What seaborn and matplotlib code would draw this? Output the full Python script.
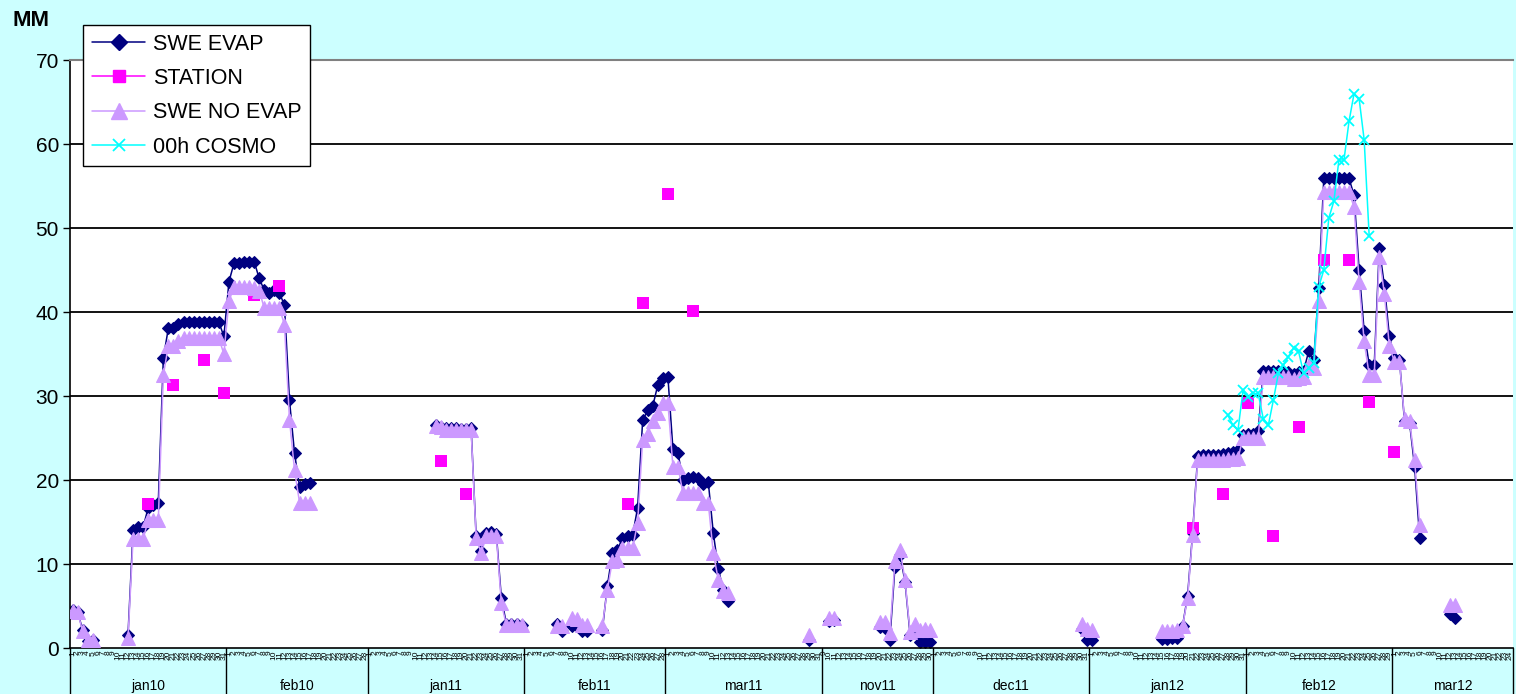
import numpy as np
import pandas as pd
import seaborn as sns
import matplotlib.pyplot as plt
from matplotlib.lines import Line2D
from matplotlib.transforms import blended_transform_factory

# category axis: days grouped by month
months = ["jan10", "feb10", "jan11", "feb11", "mar11", "nov11", "dec11", "jan12", "feb12", "mar12"]
month_start = ["2010-01-01", "2010-02-01", "2011-01-01", "2011-02-01", "2011-03-01",
               "2011-11-09", "2011-12-01", "2012-01-01", "2012-02-01", "2012-03-01"]
month_len = [31, 28, 31, 28, 31, 22, 31, 31, 29, 24]

# SWE runs (consecutive days), same start days for both model series
run_start = ["2010-01-01", "2010-01-12", "2011-01-14", "2011-02-07", "2011-02-10",
             "2011-02-16", "2011-03-29", "2011-11-10", "2011-11-20", "2011-12-30",
             "2012-01-15", "2012-03-12"]
swe_evap = [
    [4.5, 4.3, 2.2, 0.8, 1.0],
    [1.6, 14.0, 14.4, 14.4, 16.7, 17.0, 17.3, 34.5, 38.1, 38.1, 38.6, 38.8, 38.8, 38.8, 38.8,
     38.8, 38.8, 38.8, 38.8, 37.1, 43.6, 45.8, 45.8, 45.9, 46.0, 46.0, 44.0, 42.6, 42.3, 42.6,
     42.3, 40.8, 29.5, 23.2, 19.2, 19.5, 19.7],
    [26.6, 26.3, 26.2, 26.2, 26.2, 26.1, 26.1, 26.2, 13.3, 11.6, 13.7, 13.8, 13.6, 5.9,
     2.9, 2.9, 2.9, 2.7],
    [2.8, 2.0],
    [2.6, 2.6, 2.0, 2.0],
    [2.1, 7.4, 11.3, 11.7, 13.1, 13.3, 13.4, 16.7, 27.1, 28.3, 28.8, 31.3, 32.2, 32.3, 23.7,
     23.2, 20.0, 20.2, 20.4, 20.2, 19.5, 19.8, 13.7, 9.4, 6.9, 5.6],
    [1.0],
    [3.2, 3.3],
    [2.5, 2.4, 1.0, 9.6, 11.1, 7.9, 1.6, 1.8, 0.7, 0.7, 0.7],
    [2.3, 1.0, 1.0],
    [1.1, 1.1, 1.2, 1.2, 2.6, 6.2, 13.7, 22.8, 23.0, 23.0, 23.0, 23.0, 23.1, 23.2, 23.3, 23.6,
     25.4, 25.5, 25.5, 25.8, 33.0, 33.0, 33.0, 33.0, 32.9, 32.9, 32.6, 32.8, 33.0, 35.3, 34.3,
     42.9, 55.9, 55.9, 55.9, 55.9, 55.9, 55.9, 53.9, 45.0, 37.7, 33.7, 33.7, 47.6, 43.2, 37.1,
     34.5, 34.3, 27.0, 26.8, 21.6, 13.1],
    [4.0, 3.6],
]
swe_no_evap = [
    [4.4, 4.3, 2.0, 1.0, 1.0],
    [1.2, 13.0, 13.0, 13.0, 15.2, 15.2, 15.2, 32.5, 36.0, 36.0, 36.5, 36.9, 36.9, 36.9, 36.9,
     36.9, 36.9, 36.9, 36.9, 35.0, 41.3, 43.0, 43.0, 43.0, 43.0, 42.9, 42.5, 40.5, 40.5, 40.5,
     40.5, 38.5, 27.2, 21.2, 17.3, 17.3, 17.3],
    [26.4, 26.3, 26.0, 26.0, 26.0, 26.0, 26.0, 26.0, 13.1, 11.3, 13.3, 13.3, 13.3, 5.3,
     2.7, 2.7, 2.7, 2.7],
    [2.6, 2.6],
    [3.6, 3.5, 2.7, 2.7],
    [2.6, 6.9, 10.4, 10.5, 11.9, 11.9, 11.9, 14.9, 24.8, 25.5, 27.0, 28.0, 29.2, 29.2, 21.6,
     21.6, 18.4, 18.4, 18.4, 18.4, 17.3, 17.3, 11.3, 8.1, 6.8, 6.6],
    [1.5],
    [3.6, 3.6],
    [3.1, 3.1, 1.8, 10.3, 11.7, 8.1, 1.9, 2.9, 2.2, 2.3, 2.2],
    [2.9, 2.3, 2.1],
    [2.0, 2.0, 2.0, 2.1, 2.6, 5.9, 13.4, 22.4, 22.4, 22.4, 22.4, 22.4, 22.4, 22.5, 22.5, 22.6,
     25.0, 25.0, 25.0, 25.0, 32.3, 32.3, 32.3, 32.3, 32.3, 32.3, 32.0, 32.2, 32.3, 33.7, 33.3,
     41.3, 54.3, 54.3, 54.3, 54.3, 54.3, 54.3, 52.5, 43.6, 36.5, 32.5, 32.5, 46.6, 42.2, 35.9,
     34.1, 34.1, 27.3, 27.0, 22.4, 14.6],
    [5.1, 5.1],
]

station_dates = ["2010-01-16", "2010-01-21", "2010-01-27", "2010-01-31", "2010-02-06", "2010-02-11",
                 "2011-01-15", "2011-01-20", "2011-02-21", "2011-02-24", "2011-03-01", "2011-03-06",
                 "2012-01-21", "2012-01-27", "2012-02-01", "2012-02-06", "2012-02-11", "2012-02-16",
                 "2012-02-21", "2012-02-25", "2012-03-01"]
station_vals = [17.2, 31.3, 34.3, 30.3, 42.0, 43.1,
                22.3, 18.3, 17.2, 41.1, 54.1, 40.1,
                14.3, 18.3, 29.2, 13.3, 26.3, 46.2,
                46.2, 29.3, 23.3]

cosmo_start = "2012-01-28"
cosmo_vals = [27.7, 26.5, 26.0, 30.7, 29.9, 30.3, 30.3, 27.3, 26.5, 29.5, 32.7, 33.7, 34.7, 35.7,
              35.3, 32.7, 33.3, 33.9, 43.0, 45.0, 51.2, 53.2, 58.1, 58.1, 62.7, 66.0, 65.4, 60.5,
              49.0]

NAVY = "#000080"
PINK = "#FF00FF"
LILAC = "#CC99FF"
CYAN = "#00FFFF"
BG = "#CCFFFF"

days = pd.DatetimeIndex(np.concatenate(
    [pd.date_range(s, periods=n).values for s, n in zip(month_start, month_len)]))
pos_of = {d: i for i, d in enumerate(days)}
n_days = len(days)


def runs_frame(starts, values):
    rows = []
    for r, (s, vals) in enumerate(zip(starts, values)):
        p0 = pos_of[pd.Timestamp(s)]
        for k, v in enumerate(vals):
            rows.append((p0 + k, v, r))
    return pd.DataFrame(rows, columns=["pos", "value", "run"])


evap_df = runs_frame(run_start, swe_evap)
noevap_df = runs_frame(run_start, swe_no_evap)
cosmo_df = runs_frame([cosmo_start], [cosmo_vals])
station_df = pd.DataFrame({"pos": [pos_of[pd.Timestamp(d)] for d in station_dates],
                           "value": station_vals})

sns.set_style("white")
plt.rcParams["font.family"] = ["Liberation Sans", "DejaVu Sans"]
plt.rcParams["text.color"] = "black"
plt.rcParams["xtick.color"] = "black"
plt.rcParams["ytick.color"] = "black"

fig = plt.figure(figsize=(15.16, 6.94), dpi=100, facecolor=BG)
ax = fig.add_axes([70 / 1516, 46 / 694, 1443 / 1516, 588 / 694])
ax.set_facecolor("white")

ax.hlines(range(10, 70, 10), -0.5, n_days - 0.5, color="black", lw=1.3, zorder=1)

sns.lineplot(data=evap_df, x="pos", y="value", units="run", estimator=None, ax=ax,
             color=NAVY, linewidth=1.1, marker="D", markersize=6.5,
             markeredgecolor=NAVY, markerfacecolor=NAVY, zorder=2, legend=False)
sns.scatterplot(data=station_df, x="pos", y="value", ax=ax, marker="s", s=70,
                color=PINK, edgecolor=PINK, linewidth=0, zorder=2.5, legend=False)
sns.lineplot(data=noevap_df, x="pos", y="value", units="run", estimator=None, ax=ax,
             color=LILAC, linewidth=1.1, marker="^", markersize=10,
             markeredgecolor=LILAC, markerfacecolor=LILAC, zorder=3, legend=False)
sns.lineplot(data=cosmo_df, x="pos", y="value", units="run", estimator=None, ax=ax,
             color=CYAN, linewidth=1.1, marker="x", markersize=7, markeredgewidth=1.3,
             markeredgecolor=CYAN, zorder=4, legend=False)

ax.set_xlim(-0.5, n_days - 0.5)
ax.set_ylim(0, 70)
ax.set_xlabel("")
ax.set_ylabel("")
ax.set_yticks(range(0, 80, 10))
ax.tick_params(axis="y", direction="out", length=5, width=1, colors="black",
               labelsize=15, pad=3, left=True)

# day labels and category ticks
ax.set_xticks(range(n_days))
ax.set_xticklabels([str(d.day) for d in days], rotation=90, fontsize=6, color="black")
ax.tick_params(axis="x", which="major", length=0, pad=2)
ax.set_xticks(np.arange(n_days + 1) - 0.5, minor=True)
ax.tick_params(axis="x", which="minor", direction="out", length=5, width=1, color="black")

for side in ["left", "bottom"]:
    ax.spines[side].set_color("black")
    ax.spines[side].set_linewidth(1.2)
ax.spines["top"].set_color("#808080")
ax.spines["top"].set_linewidth(1.5)
ax.spines["right"].set_visible(False)

# month group row
trans = blended_transform_factory(ax.transData, ax.transAxes)
bounds = np.concatenate([[0], np.cumsum(month_len)]) - 0.5
for b in bounds:
    ax.plot([b, b], [0, -48 / 588], transform=trans, color="black", lw=1, clip_on=False)
for m, a, b in zip(months, bounds[:-1], bounds[1:]):
    ax.text((a + b) / 2, -38 / 588, m, transform=trans, ha="center", va="center",
            fontsize=10, color="black")

fig.text(12 / 1516, 1 - 20 / 694, "MM", fontsize=16, fontweight="bold", ha="left",
         va="center", color="black")

handles = [
    Line2D([], [], color=NAVY, lw=1.1, marker="D", markersize=8, markeredgecolor=NAVY),
    Line2D([], [], color=PINK, lw=1.1, marker="s", markersize=9, markeredgecolor=PINK),
    Line2D([], [], color=LILAC, lw=1.1, marker="^", markersize=11, markeredgecolor=LILAC),
    Line2D([], [], color=CYAN, lw=1.1, marker="x", markersize=8, markeredgewidth=1.3),
]
leg = fig.legend(handles, ["SWE EVAP", "STATION", "SWE NO EVAP", "00h COSMO"],
                 loc="upper left", bbox_to_anchor=(83 / 1516, 1 - 25 / 694),
                 borderaxespad=0, fontsize=15.5, frameon=True, fancybox=False,
                 edgecolor="black", framealpha=1, handlelength=2.5, labelspacing=0.62,
                 borderpad=0.4, handletextpad=0.35, labelcolor="black")
leg.get_frame().set_linewidth(1)

fig.savefig("out.png", dpi=100, facecolor=BG)
